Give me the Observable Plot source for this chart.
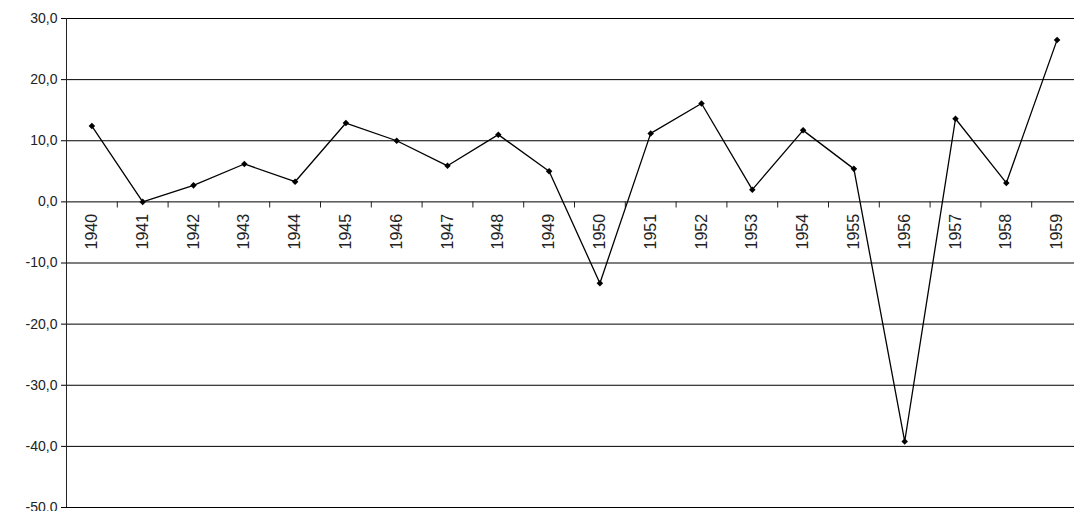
<!DOCTYPE html>
<html>
<head>
<meta charset="utf-8">
<script src="https://cdn.jsdelivr.net/npm/d3@7"></script>
<script src="https://cdn.jsdelivr.net/npm/@observablehq/plot@0.6"></script>
<style>
body { margin: 0; overflow: hidden; background: white; }
svg { max-width: none !important; }
</style>
</head>
<body>
<div id="chart"></div>
<script>
const years = [1940, 1941, 1942, 1943, 1944, 1945, 1946, 1947, 1948, 1949,
  1950, 1951, 1952, 1953, 1954, 1955, 1956, 1957, 1958, 1959];
const values = [12.4, 0, 2.7, 6.2, 3.3, 12.9, 10.0, 5.9, 11.0, 5.0,
  -13.3, 11.2, 16.1, 2.0, 11.7, 5.4, -39.2, 13.6, 3.1, 26.5];
const yTicks = [30, 20, 10, 0, -10, -20, -30, -40, -50];

const data = years.map((y, i) => ({year: y, value: values[i]}));
const fmt = d => d.toFixed(1).replace(".", ",");

let chart = Plot.plot({
  width: 1082,
  height: 511,
  marginLeft: 66,
  marginRight: 0,
  marginTop: 18,
  marginBottom: 4,
  style: {fontFamily: "Liberation Sans, Arial, sans-serif", fontSize: "14px", color: "#222", overflow: "visible"},
  x: {domain: [1939.5, 1959.5], axis: null},
  y: {domain: [-50, 30], label: null},
  marks: [
    Plot.ruleY(yTicks, {stroke: "black", strokeWidth: 1}),
    Plot.axisY({ticks: yTicks, tickFormat: fmt, tickSize: 5, label: null, fontSize: 14, letterSpacing: "1.5px", stroke: "black"}),
    Plot.ruleX([1939.5]),
    Plot.ruleX(years, {x: d => d + 0.5, y1: 0, y2: -1}),
    Plot.text(years, {x: d => d, y: 0, dy: 12, rotate: -90, textAnchor: "end", fontSize: 16, fill: "#222", text: d => String(d)}),
    Plot.line(data, {x: "year", y: "value", stroke: "black", strokeWidth: 1.3}),
    Plot.dot(data, {x: "year", y: "value", symbol: "square", rotate: 45, r: 2.6, fill: "black"})
  ]
});
document.getElementById("chart").append(chart);
</script>
</body>
</html>
